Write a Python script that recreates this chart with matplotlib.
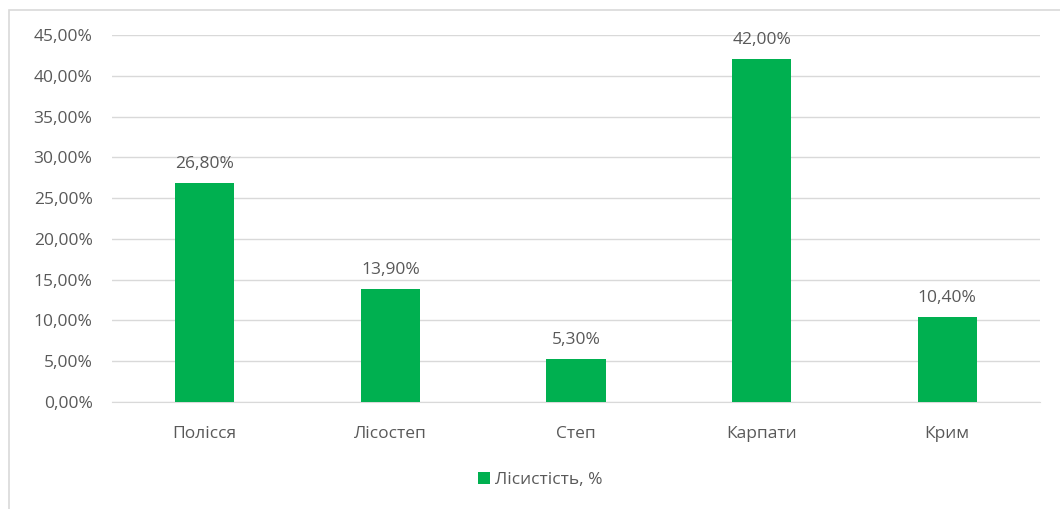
import matplotlib
matplotlib.use("Agg")
import matplotlib.pyplot as plt
from matplotlib.patches import Rectangle
from matplotlib.ticker import MultipleLocator, FuncFormatter

regions = ["Полісся", "Лісостеп", "Степ", "Карпати", "Крим"]
forest_cover = [26.8, 13.9, 5.3, 42.0, 10.4]
series_name = "Лісистість, %"

green = "#00B050"
text_col = "#595959"

plt.rcParams['font.family'] = ['Open Sans', 'DejaVu Sans']

fig = plt.figure(figsize=(10.6, 5.09), dpi=100)
# chart area border
fig.patches.append(Rectangle((9 / 1060, -0.1), 1.2, 1 - 10 / 509 + 0.1,
                             transform=fig.transFigure, fill=False,
                             edgecolor="#D9D9D9", linewidth=1.2))

ax = fig.add_axes([112 / 1060, 1 - 402 / 509, 928 / 1060, 367 / 509])
bars = ax.bar(range(len(regions)), forest_cover, width=0.32, color=green,
              label=series_name, zorder=3)

for b, v in zip(bars, forest_cover):
    ax.annotate(f"{v:.2f}%".replace(".", ","),
                (b.get_x() + b.get_width() / 2, v),
                xytext=(0, 8), textcoords="offset points",
                ha="center", va="bottom", fontsize=12.5, color=text_col)

ax.set_xlim(-0.5, len(regions) - 0.5)
ax.set_ylim(0, 45)
ax.yaxis.set_major_locator(MultipleLocator(5))
ax.yaxis.set_major_formatter(FuncFormatter(lambda y, _: f"{y:.2f}%".replace(".", ",")))
ax.set_xticks(range(len(regions)))
ax.set_xticklabels(regions)
ax.tick_params(axis="both", length=0, labelsize=12.5, labelcolor=text_col)
ax.tick_params(axis="x", pad=17)
ax.tick_params(axis="y", pad=14)
ax.grid(axis="y", color="#D9D9D9", linewidth=1, zorder=0)
for s in ["top", "right", "left"]:
    ax.spines[s].set_visible(False)
ax.spines["bottom"].set_color("#D9D9D9")

fig.legend(loc="center", bbox_to_anchor=(540 / 1060, 1 - 480 / 509),
           frameon=False, fontsize=12.5, labelcolor=text_col,
           handlelength=0.7, handleheight=0.7, handletextpad=0.3)

fig.savefig("out.png", dpi=100)
